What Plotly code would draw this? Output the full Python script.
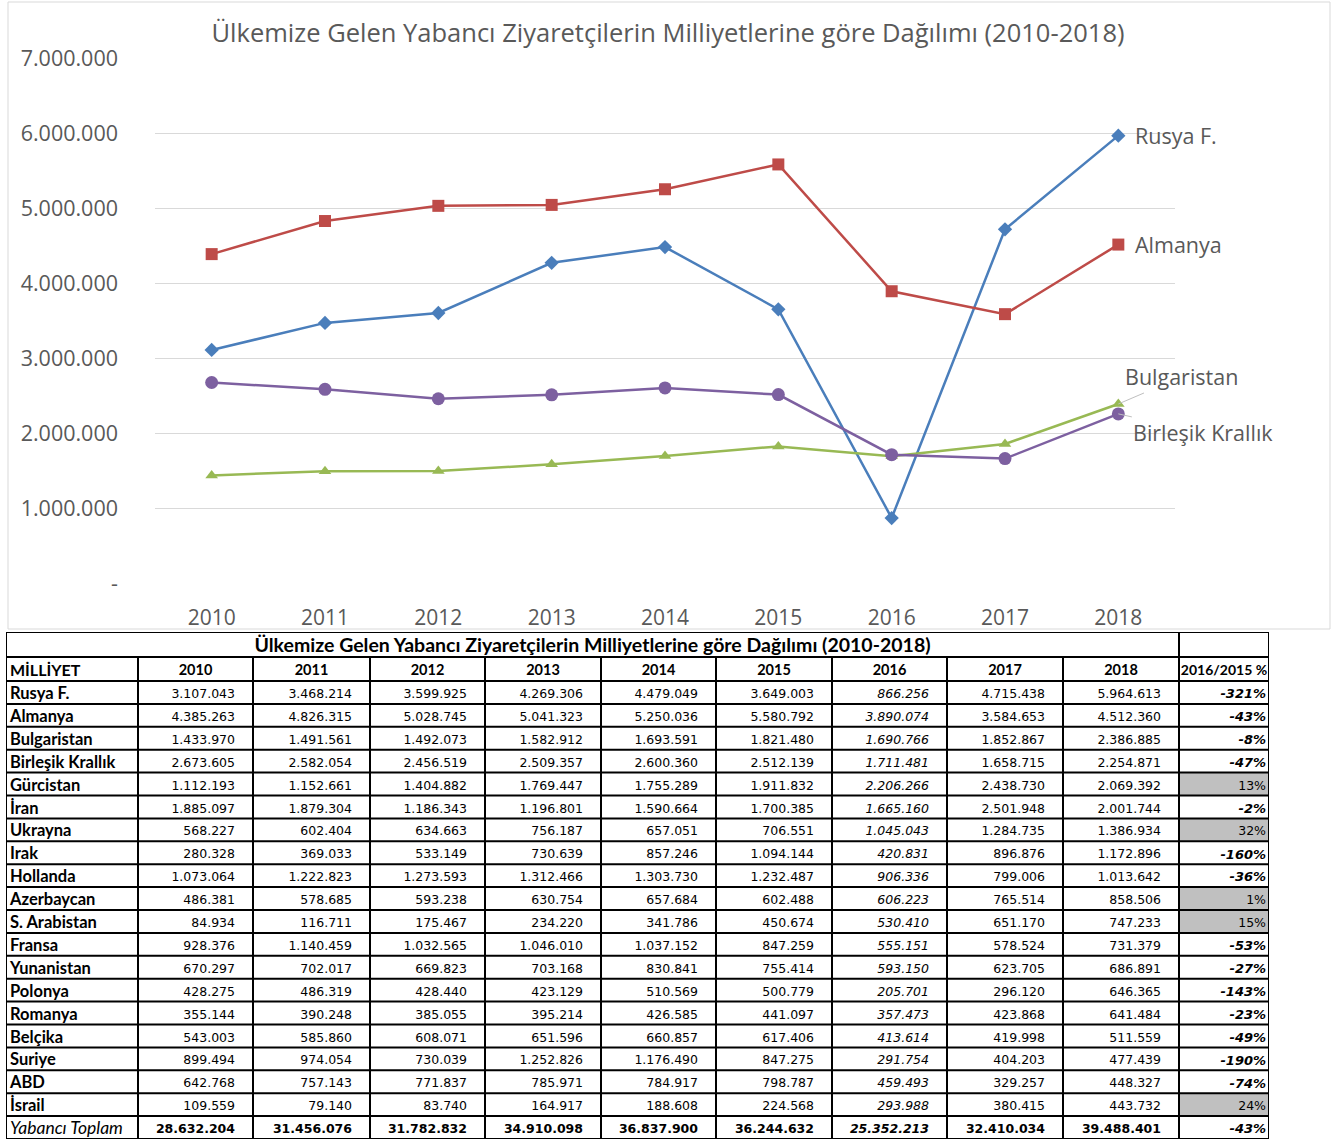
import plotly.graph_objects as go

years = [2010, 2011, 2012, 2013, 2014, 2015, 2016, 2017, 2018]
year_labels = ["2010", "2011", "2012", "2013", "2014", "2015", "2016", "2017", "2018"]

countries = ["Rusya F.", "Almanya", "Bulgaristan", "Birleşik Krallık", "Gürcistan", "İran",
             "Ukrayna", "Irak", "Hollanda", "Azerbaycan", "S. Arabistan", "Fransa",
             "Yunanistan", "Polonya", "Romanya", "Belçika", "Suriye", "ABD", "İsrail"]
total_label = "Yabancı Toplam"

rusya = [3107043, 3468214, 3599925, 4269306, 4479049, 3649003, 866256, 4715438, 5964613]
almanya = [4385263, 4826315, 5028745, 5041323, 5250036, 5580792, 3890074, 3584653, 4512360]
bulgaristan = [1433970, 1491561, 1492073, 1582912, 1693591, 1821480, 1690766, 1852867, 2386885]
birlesik = [2673605, 2582054, 2456519, 2509357, 2600360, 2512139, 1711481, 1658715, 2254871]
gurcistan = [1112193, 1152661, 1404882, 1769447, 1755289, 1911832, 2206266, 2438730, 2069392]
iran = [1885097, 1879304, 1186343, 1196801, 1590664, 1700385, 1665160, 2501948, 2001744]
ukrayna = [568227, 602404, 634663, 756187, 657051, 706551, 1045043, 1284735, 1386934]
irak = [280328, 369033, 533149, 730639, 857246, 1094144, 420831, 896876, 1172896]
hollanda = [1073064, 1222823, 1273593, 1312466, 1303730, 1232487, 906336, 799006, 1013642]
azerbaycan = [486381, 578685, 593238, 630754, 657684, 602488, 606223, 765514, 858506]
arabistan = [84934, 116711, 175467, 234220, 341786, 450674, 530410, 651170, 747233]
fransa = [928376, 1140459, 1032565, 1046010, 1037152, 847259, 555151, 578524, 731379]
yunanistan = [670297, 702017, 669823, 703168, 830841, 755414, 593150, 623705, 686891]
polonya = [428275, 486319, 428440, 423129, 510569, 500779, 205701, 296120, 646365]
romanya = [355144, 390248, 385055, 395214, 426585, 441097, 357473, 423868, 641484]
belcika = [543003, 585860, 608071, 651596, 660857, 617406, 413614, 419998, 511559]
suriye = [899494, 974054, 730039, 1252826, 1176490, 847275, 291754, 404203, 477439]
abd = [642768, 757143, 771837, 785971, 784917, 798787, 459493, 329257, 448327]
israil = [109559, 79140, 83740, 164917, 188608, 224568, 293988, 380415, 443732]
toplam = [28632204, 31456076, 31782832, 34910098, 36837900, 36244632, 25352213, 32410034, 39488401]

change_pct = [-321, -43, -8, -47, 13, -2, 32, -160, -36, 1, 15, -53, -27, -143, -23, -49, -190, -74, 24, -43]

y_ticks = [0, 1000000, 2000000, 3000000, 4000000, 5000000, 6000000, 7000000]
y_ticktext = ["-", "1.000.000", "2.000.000", "3.000.000", "4.000.000", "5.000.000", "6.000.000", "7.000.000"]

chart_title = "Ülkemize Gelen Yabancı Ziyaretçilerin Milliyetlerine göre Dağılımı (2010-2018)"
header_labels = ["MİLLİYET"] + year_labels + ["2016/2015 %"]

rows = [rusya, almanya, bulgaristan, birlesik, gurcistan, iran, ukrayna, irak, hollanda,
        azerbaycan, arabistan, fransa, yunanistan, polonya, romanya, belcika, suriye, abd, israil]

W, H = 1340, 1141


def px(x):
    return x / W


def py(y):
    return (H - y) / H


def fmt(v):
    return f"{v:,}".replace(",", ".")


GRAY_TXT = "#595959"
fig = go.Figure()

# ---------------- line chart ----------------
series = [
    ("Rusya F.", rusya, "#4A7EBB", "diamond", 11),
    ("Almanya", almanya, "#BE4B48", "square", 12),
    ("Bulgaristan", bulgaristan, "#98B954", "triangle-up", 11),
    ("Birleşik Krallık", birlesik, "#7D60A0", "circle", 13),
]
for name, vals, col, sym, sz in series:
    fig.add_trace(go.Scatter(
        x=years, y=vals, name=name, mode="lines+markers",
        line=dict(color=col, width=2.5),
        marker=dict(symbol=sym, size=sz, color=col, line=dict(width=0)),
        showlegend=False, cliponaxis=False,
    ))

lab_font = dict(family="Open Sans", size=21.5, color=GRAY_TXT)
fig.add_annotation(x=years[-1], y=rusya[-1], text="Rusya F.", showarrow=False,
                   xanchor="left", yanchor="middle", xshift=15, font=lab_font)
fig.add_annotation(x=years[-1], y=almanya[-1], text="Almanya", showarrow=False,
                   xanchor="left", yanchor="middle", xshift=15, font=lab_font)
fig.add_annotation(x=years[-1], y=bulgaristan[-1], text="Bulgaristan", showarrow=True,
                   arrowhead=0, arrowwidth=1, arrowcolor="#BFBFBF", ax=63, ay=-27,
                   standoff=0, font=lab_font)
fig.add_annotation(x=years[-1], y=birlesik[-1], text="Birleşik Krallık", showarrow=True,
                   arrowhead=0, arrowwidth=1, arrowcolor="#BFBFBF", ax=85, ay=19,
                   standoff=0, font=lab_font)

# ---------------- table (drawn on its own axes, pixel-like units) ----------------
col_widths = [132, 115, 117, 115, 116, 115, 116, 115, 116, 116, 90]
row_heights = [25, 24] + [22.9] * (len(countries) + 1)
col_edges = [0]
for w in col_widths:
    col_edges.append(col_edges[-1] + w)
row_edges = [0]
for h in row_heights:
    row_edges.append(row_edges[-1] + h)
TW, TH = col_edges[-1], row_edges[-1]
TXT_DY = 2.5  # visual centring of text baseline
col_mid = [(col_edges[i] + col_edges[i + 1]) / 2 for i in range(len(col_widths))]
row_mid = [(row_edges[i] + row_edges[i + 1]) / 2 + TXT_DY for i in range(len(row_heights))]

# gray fill for positive changes (heatmap bricks, transparent elsewhere)
z = [[None] * len(col_widths) for _ in row_heights]
for i, p in enumerate(change_pct):
    if p > 0:
        z[i + 2][-1] = 1
fig.add_trace(go.Heatmap(
    x=col_edges, y=row_edges, z=z, xaxis="x2", yaxis="y2",
    colorscale=[[0, "#C0C0C0"], [1, "#C0C0C0"]], zmin=0, zmax=1,
    showscale=False, hoverinfo="skip",
))

# borders
bx, by = [], []
for e in row_edges:
    bx += [0, TW, None]
    by += [e, e, None]
for k, e in enumerate(col_edges):
    bx += [e, e, None]
    if k in (0, len(col_edges) - 2, len(col_edges) - 1):
        by += [0, TH, None]
    else:
        by += [row_edges[1], TH, None]
fig.add_trace(go.Scatter(x=bx, y=by, xaxis="x2", yaxis="y2", mode="lines",
                         line=dict(color="black", width=2), hoverinfo="skip",
                         showlegend=False, cliponaxis=False))

# title row text
fig.add_trace(go.Scatter(
    x=[(col_edges[0] + col_edges[-2]) / 2], y=[row_mid[0]], xaxis="x2", yaxis="y2",
    mode="text", text=[f"<b>{chart_title}</b>"], textposition="middle center",
    textfont=dict(family="Lato", size=19.5, color="black"),
    hoverinfo="skip", showlegend=False, cliponaxis=False))

# header row text
fig.add_trace(go.Scatter(
    x=[col_edges[0] + 4], y=[row_mid[1]], xaxis="x2", yaxis="y2", mode="text",
    text=[f"<b>{header_labels[0]}</b>"], textposition="middle right",
    textfont=dict(family="Lato", size=16, color="black"),
    hoverinfo="skip", showlegend=False, cliponaxis=False))
fig.add_trace(go.Scatter(
    x=col_mid[1:], y=[row_mid[1]] * (len(header_labels) - 1), xaxis="x2", yaxis="y2",
    mode="text", text=[f"<b>{h}</b>" for h in header_labels[1:]],
    textposition="middle center",
    textfont=dict(family="Lato", size=[14.5] * (len(header_labels) - 2) + [14], color="black"),
    hoverinfo="skip", showlegend=False, cliponaxis=False))

# country names
name_text = [f"<b>{c}</b>" for c in countries] + [f"<i>{total_label}</i>"]
name_size = [16.5] * len(countries) + [17.5]
fig.add_trace(go.Scatter(
    x=[col_edges[0] + 4] * len(name_text), y=row_mid[2:], xaxis="x2", yaxis="y2",
    mode="text", text=name_text, textposition="middle right",
    textfont=dict(family="Lato", size=name_size, color="black"),
    hoverinfo="skip", showlegend=False, cliponaxis=False))

# numbers
nx, ny, nt = [], [], []
for j in range(len(years)):
    right = col_edges[j + 2] - 18
    for i, r in enumerate(rows + [toplam]):
        s = fmt(r[j])
        if years[j] == 2016:
            s = f"<i>{s}</i>"
        if i == len(rows):
            s = f"<b>{s}</b>"
        nx.append(right)
        ny.append(row_mid[i + 2])
        nt.append(s)
fig.add_trace(go.Scatter(
    x=nx, y=ny, xaxis="x2", yaxis="y2", mode="text", text=nt,
    textposition="middle left",
    textfont=dict(family="DejaVu Sans", size=12.5, color="black"),
    hoverinfo="skip", showlegend=False, cliponaxis=False))

# percent column
pt = [f"<b><i>{p}%</i></b>" if p < 0 else f"{p}%" for p in change_pct]
fig.add_trace(go.Scatter(
    x=[col_edges[-1] - 3] * len(pt), y=row_mid[2:], xaxis="x2", yaxis="y2",
    mode="text", text=pt, textposition="middle left",
    textfont=dict(family="DejaVu Sans", size=[13 if p < 0 else 12.5 for p in change_pct],
                  color="black"),
    hoverinfo="skip", showlegend=False, cliponaxis=False))

# chart outer border
fig.add_shape(type="rect", xref="paper", yref="paper",
              x0=px(8), x1=px(1330), y0=py(629), y1=py(2),
              line=dict(color="#D9D9D9", width=1), fillcolor="rgba(0,0,0,0)", layer="below")

fig.update_layout(
    width=W, height=H,
    margin=dict(l=0, r=0, t=0, b=0, autoexpand=False),
    paper_bgcolor="white", plot_bgcolor="white",
    showlegend=False,
    title=dict(text=chart_title, x=px(668), y=py(33), xanchor="center", yanchor="middle",
               font=dict(family="Open Sans", size=25.5, color=GRAY_TXT)),
    xaxis=dict(domain=[px(155), px(1175)], range=[2009.5, 2018.5],
               tickvals=years, ticktext=year_labels, showgrid=False, zeroline=False,
               showline=False, ticks="", ticklabelstandoff=20,
               tickfont=dict(family="Open Sans", size=21, color=GRAY_TXT)),
    yaxis=dict(domain=[py(583), py(58)], range=[0, 7000000],
               tickvals=y_ticks, ticktext=y_ticktext, showgrid=True, gridcolor="#D9D9D9",
               gridwidth=1, zeroline=False, showline=False, ticks="", ticklabelstandoff=36,
               tickfont=dict(family="Open Sans", size=21.5, color=GRAY_TXT)),
    xaxis2=dict(domain=[px(6), px(6 + TW)], range=[0, TW], anchor="y2", visible=False),
    yaxis2=dict(domain=[py(632 + TH), py(632)], range=[TH, 0], anchor="x2", visible=False),
)

fig.write_html("out.html", config={"displayModeBar": False},
               post_script="document.body.style.margin='0px';")
